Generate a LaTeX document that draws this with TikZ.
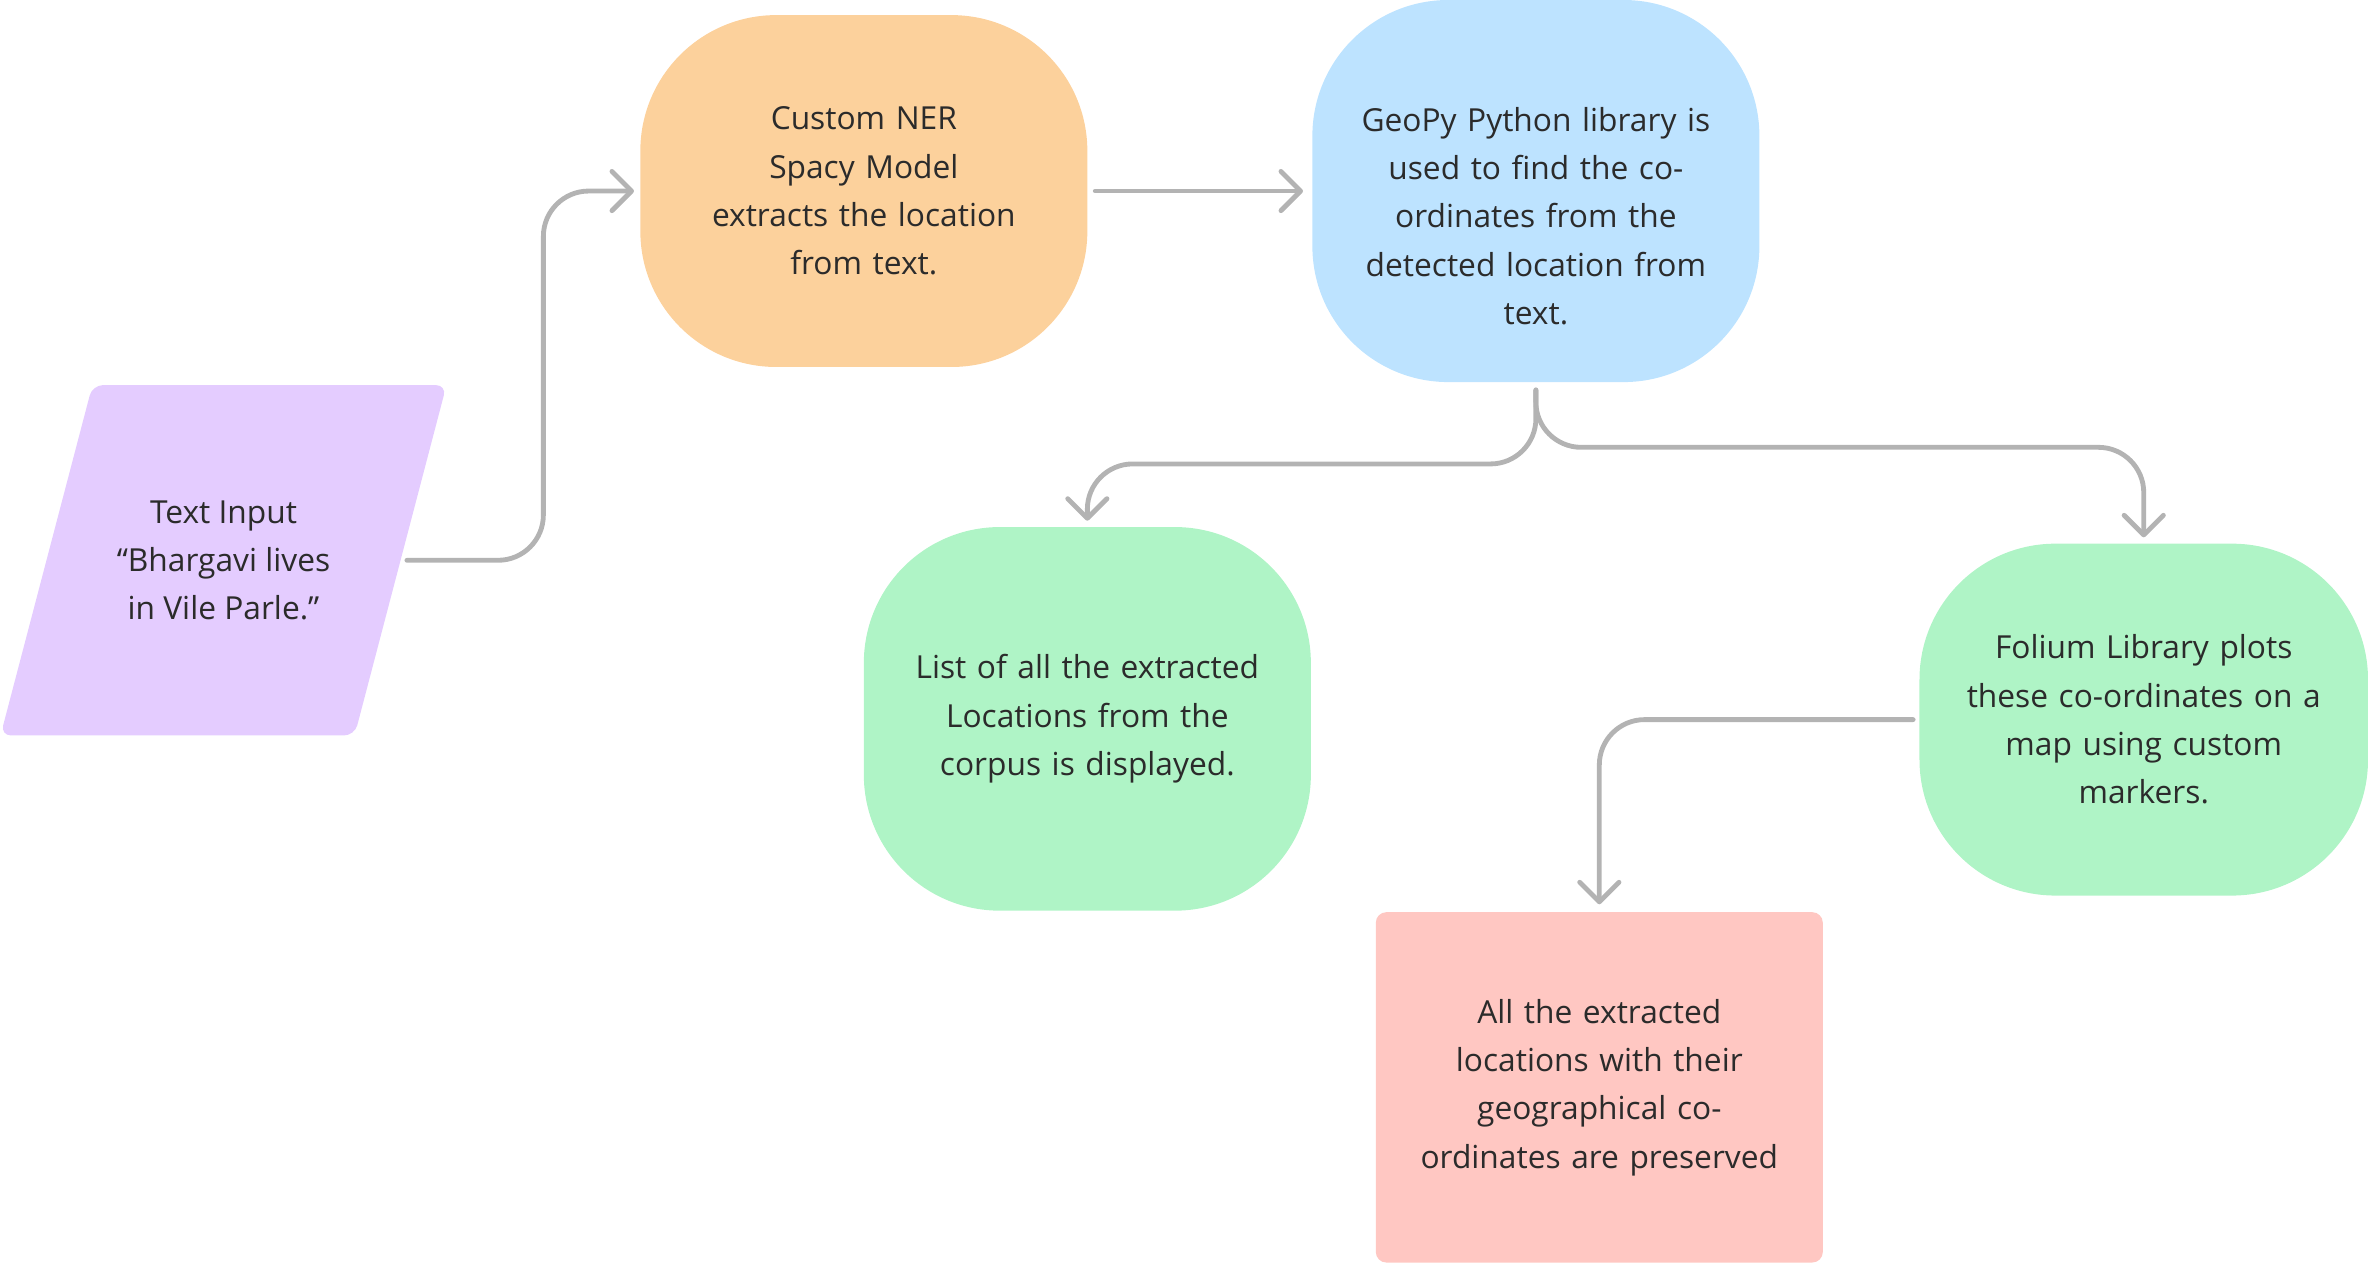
\documentclass[tikz,border=0pt]{standalone}
\usepackage{fontspec}
\setmainfont{Open Sans}
\usetikzlibrary{shapes.geometric,arrows.meta}
\definecolor{inputfill}{HTML}{E4CCFF}
\definecolor{nerfill}{HTML}{FCD19C}
\definecolor{geofill}{HTML}{BDE3FF}
\definecolor{greenfill}{HTML}{AFF4C6}
\definecolor{keepfill}{HTML}{FFC7C2}
\definecolor{linegray}{HTML}{B3B3B3}
\definecolor{ink}{HTML}{2B2B2B}
\begin{document}
\begin{tikzpicture}[x=1pt, y=-1pt,
  main node/.style={rectangle, rounded corners=90pt, minimum width=296pt, minimum height=233pt, inner sep=0pt, text width=270pt, align=center, text=ink, font=\fontsize{21}{32}\selectfont},
  flow/.style={draw=linegray, line width=3.2pt, line cap=round, rounded corners=30pt, shorten >=4pt, -{Straight Barb[length=13pt,width=26pt,round]}}]
\useasboundingbox (0,0) rectangle (1568,837);
\begin{scope}
\node[trapezium, trapezium left angle=58, trapezium right angle=122, trapezium stretches=true, minimum width=296pt, minimum height=232pt, inner sep=0pt, rounded corners=7pt, fill=inputfill, text=ink, align=center, font=\fontsize{21}{32}\selectfont] (input) at (148,371) {Text Input\\“Bhargavi lives\\in Vile Parle.”};
\node[main node, fill=nerfill] (ner) at (572,126.5) {Custom NER\\Spacy Model\\extracts the location\\from text.};
\node[main node, fill=geofill, minimum height=253pt] (geo) at (1017,126.5) {\rule{0pt}{49pt}GeoPy Python library is\\used to find the co-\\ordinates from the\\detected location from\\text.};
\node[main node, fill=greenfill, minimum height=254pt] (list) at (720,476) {List of all the extracted\\Locations from the\\corpus is displayed.};
\node[main node, fill=greenfill, minimum width=297pt] (folium) at (1419.5,476.5) {Folium Library plots\\these co-ordinates on a\\map using custom\\markers.};
\node[main node, fill=keepfill, rounded corners=7pt, minimum height=232pt] (keep) at (1059,720) {All the extracted\\locations with their\\geographical co-\\ordinates are preserved};
\end{scope}
\begin{scope}
\draw[flow, shorten <=4pt] (input.right side) -| ([xshift=-64pt]ner.west) -- (ner.west);
\draw[flow, shorten <=5pt, shorten >=6pt] (ner.east) -- (geo.west);
\draw[flow] ([yshift=-5pt]geo.south) -- ++(0,49) -| (list.north);
\draw[flow] ([yshift=-5pt]geo.south) -- ++(0,38) -| (folium.north);
\draw[flow, shorten >=5pt] ([xshift=-4pt]folium.west) -| (keep.north);
\end{scope}
\end{tikzpicture}
\end{document}
